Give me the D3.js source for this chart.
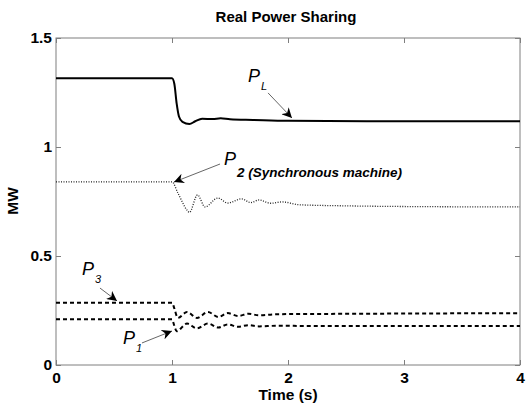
<!DOCTYPE html>
<html>
<head>
<meta charset="utf-8">
<script src="https://cdn.jsdelivr.net/npm/d3@7"></script>
<style>
  body { margin: 0; background: #fff; }
  text { font-family: "Liberation Sans", Arial, sans-serif; }
</style>
</head>
<body>
<svg width="527" height="406"></svg>
<script>
// time (s) and MW values
const tL = [0, 1.0, 1.02, 1.04, 1.06, 1.09, 1.15, 1.2, 1.26, 1.35, 1.42, 1.5, 1.7, 2.0, 3.0, 4.0];
const vL = [1.315, 1.315, 1.29, 1.2, 1.14, 1.115, 1.105, 1.118, 1.13, 1.128, 1.132, 1.127, 1.124, 1.12, 1.118, 1.118];

const t2 = [0, 1.0, 1.05, 1.13, 1.15, 1.22, 1.285, 1.395, 1.48, 1.6, 1.68, 1.75, 1.85, 1.95, 2.1, 2.5, 3.0, 4.0];
const v2 = [0.84, 0.84, 0.79, 0.71, 0.70, 0.78, 0.725, 0.766, 0.743, 0.762, 0.745, 0.757, 0.742, 0.748, 0.735, 0.73, 0.727, 0.725];

const t3 = [0, 1.0, 1.02, 1.05, 1.13, 1.215, 1.31, 1.4, 1.48, 1.57, 1.66, 1.75, 1.9, 2.2, 3.0, 4.0];
const v3 = [0.286, 0.286, 0.26, 0.216, 0.243, 0.216, 0.243, 0.22, 0.238, 0.225, 0.235, 0.228, 0.233, 0.234, 0.236, 0.238];

const t1 = [0, 1.0, 1.02, 1.04, 1.13, 1.215, 1.31, 1.4, 1.48, 1.57, 1.66, 1.75, 1.9, 2.2, 3.0, 4.0];
const v1 = [0.21, 0.21, 0.18, 0.155, 0.19, 0.168, 0.19, 0.172, 0.186, 0.175, 0.183, 0.177, 0.18, 0.179, 0.179, 0.179];

const xTicks = [0, 1, 2, 3, 4];
const yTicks = [0, 0.5, 1, 1.5];

// labels: text position and arrow (from -> tip), in data units
const labels = [
  { main: "P", sub: "L", tx: 1.655, ty: 1.298, ax: 1.828, ay: 1.248, bx: 2.034, by: 1.133, subSize: 11 },
  { main: "P", sub: "2 (Synchronous machine)", tx: 1.448, ty: 0.917, ax: 1.414, ay: 0.922, bx: 1.017, by: 0.839, subSize: 13.5, subBold: true },
  { main: "P", sub: "3", tx: 0.224, ty: 0.413, ax: 0.379, ay: 0.353, bx: 0.526, by: 0.294, subSize: 11 },
  { main: "P", sub: "1", tx: 0.578, ty: 0.096, ax: 0.741, ay: 0.101, bx: 1.0, by: 0.156, subSize: 11 }
];

const svg = d3.select("svg");
const mLeft = 56, mRight = 520, mTop = 38, mBottom = 365;

const x = d3.scaleLinear().domain([0, 4]).range([mLeft, mRight]);
const y = d3.scaleLinear().domain([0, 1.5]).range([mBottom, mTop]);

const line = d3.line()
  .x(d => x(d[0]))
  .y(d => y(d[1]))
  .curve(d3.curveMonotoneX);

const zip = (a, b) => a.map((t, i) => [t, b[i]]);

// frame and ticks
const axisColor = "#7f7f7f";
svg.append("rect")
  .attr("x", mLeft).attr("y", mTop)
  .attr("width", mRight - mLeft).attr("height", mBottom - mTop)
  .attr("fill", "none").attr("stroke", axisColor).attr("stroke-width", 1);

const gx = svg.append("g").attr("transform", `translate(0,${mBottom})`)
  .call(d3.axisBottom(x).tickValues(xTicks).tickFormat(d3.format("d")).tickSizeInner(-5).tickSizeOuter(0).tickPadding(7));
const gxTop = svg.append("g").attr("transform", `translate(0,${mTop})`)
  .call(d3.axisTop(x).tickValues(xTicks).tickFormat("").tickSizeInner(-5).tickSizeOuter(0));
const gy = svg.append("g").attr("transform", `translate(${mLeft},0)`)
  .call(d3.axisLeft(y).tickValues(yTicks).tickFormat(d => d).tickSizeInner(-5).tickSizeOuter(0).tickPadding(4));
const gyRight = svg.append("g").attr("transform", `translate(${mRight},0)`)
  .call(d3.axisRight(y).tickValues(yTicks).tickFormat("").tickSizeInner(-5).tickSizeOuter(0));

[gx, gxTop, gy, gyRight].forEach(g => {
  g.select(".domain").remove();
  g.selectAll(".tick line").attr("stroke", axisColor);
  g.selectAll("text")
    .attr("fill", "#000")
    .style("font-size", "15.5px")
    .style("font-weight", "bold")
    .style("font-family", "'Liberation Sans', Arial, sans-serif");
});

// series
svg.append("path").attr("d", line(zip(tL, vL)))
  .attr("fill", "none").attr("stroke", "#000").attr("stroke-width", 2);
svg.append("path").attr("d", line(zip(t2, v2)))
  .attr("fill", "none").attr("stroke", "#222").attr("stroke-width", 1.3)
  .attr("stroke-dasharray", "1,1.5");
svg.append("path").attr("d", line(zip(t3, v3)))
  .attr("fill", "none").attr("stroke", "#000").attr("stroke-width", 2)
  .attr("stroke-dasharray", "4,3");
svg.append("path").attr("d", line(zip(t1, v1)))
  .attr("fill", "none").attr("stroke", "#000").attr("stroke-width", 2)
  .attr("stroke-dasharray", "4,3");

// arrow heads
svg.append("defs").append("marker")
  .attr("id", "head")
  .attr("viewBox", "0 0 10 10")
  .attr("refX", 10).attr("refY", 5)
  .attr("markerWidth", 10).attr("markerHeight", 10)
  .attr("markerUnits", "userSpaceOnUse")
  .attr("orient", "auto")
  .append("path")
  .attr("d", "M0,0 L10,5 L0,10 L3,5 Z")
  .attr("fill", "#000");

labels.forEach(l => {
  svg.append("line")
    .attr("x1", x(l.ax)).attr("y1", y(l.ay))
    .attr("x2", x(l.bx)).attr("y2", y(l.by))
    .attr("stroke", "#555").attr("stroke-width", 0.9)
    .attr("marker-end", "url(#head)");
  const txt = svg.append("text")
    .attr("x", x(l.tx)).attr("y", y(l.ty))
    .style("font-style", "italic");
  txt.append("tspan").text(l.main)
    .style("font-size", "18px");
  txt.append("tspan").text(l.sub)
    .attr("dx", 1).attr("dy", l.subBold ? 12 : 8)
    .style("font-size", l.subSize + "px")
    .style("font-weight", l.subBold ? "bold" : "normal");
});

// titles
svg.append("text")
  .attr("x", 286).attr("y", 22)
  .attr("text-anchor", "middle")
  .style("font-size", "15px").style("font-weight", "bold")
  .text("Real Power Sharing");

svg.append("text")
  .attr("x", 288).attr("y", 400)
  .attr("text-anchor", "middle")
  .style("font-size", "15.5px").style("font-weight", "bold")
  .text("Time (s)");

svg.append("text")
  .attr("transform", "translate(18,201) rotate(-90)")
  .attr("text-anchor", "middle")
  .style("font-size", "15.5px").style("font-weight", "bold")
  .text("MW");
</script>
</body>
</html>
